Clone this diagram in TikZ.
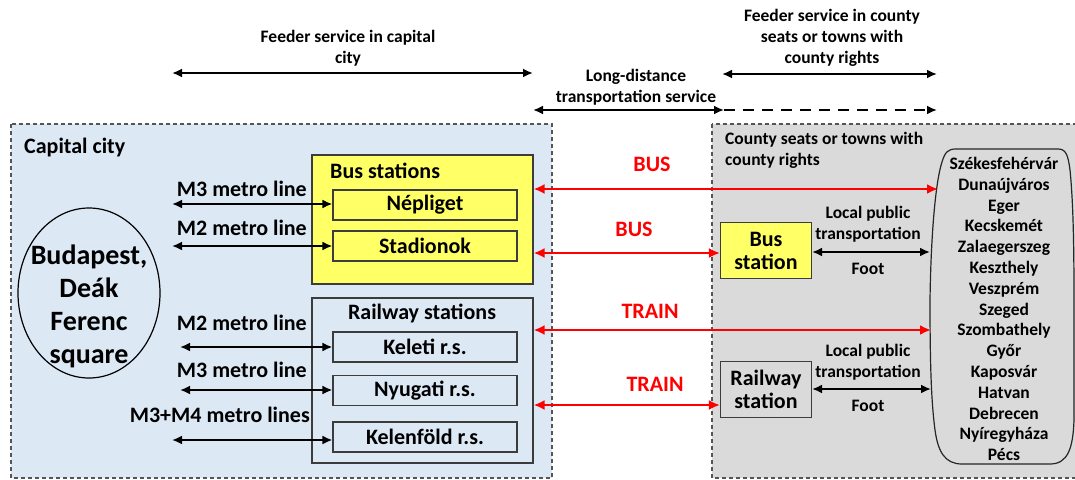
\documentclass[tikz,border=0pt]{standalone}
\usepackage{fontspec}
\setmainfont{Carlito}
\usetikzlibrary{arrows.meta,calc}

\definecolor{capbg}{RGB}{221,232,245}
\definecolor{cntbg}{RGB}{218,218,218}
\definecolor{stnyel}{RGB}{255,255,102}
\definecolor{framegray}{RGB}{85,85,85}
\definecolor{boxedge}{RGB}{60,60,60}
\definecolor{modered}{RGB}{255,0,0}

\begin{document}
\begin{tikzpicture}[x=1pt,y=-1pt,
  smallfont/.style={font=\bfseries\fontsize{17.5}{20.8}\selectfont},
  midfont/.style={font=\bfseries\fontsize{22}{26}\selectfont},
  bigfont/.style={font=\bfseries\fontsize{28}{33}\selectfont},
  region/.style={draw=framegray, dash pattern=on 4pt off 3pt, line width=1.1pt},
  stnbox/.style={draw=boxedge, line width=1.1pt, inner sep=0pt, minimum width=184pt, minimum height=30pt, midfont},
  groupbox/.style={draw=boxedge, line width=1.1pt, inner sep=0pt, minimum width=221pt},
  localbox/.style={draw=boxedge, line width=1.1pt, inner sep=0pt, minimum width=91pt, minimum height=56pt, midfont, align=center},
  link/.style={line width=2.4pt, {Latex[length=10pt,width=9pt]}-{Latex[length=10pt,width=9pt]}},
  redlink/.style={draw=modered, line width=2.6pt, {Latex[length=11pt,width=10pt]}-{Latex[length=11pt,width=10pt]}},
  modelabel/.style={midfont, text=modered},
  lbl/.style={smallfont, align=center, inner sep=0pt},
  metrolbl/.style={midfont, anchor=east, inner sep=0pt}
]
\useasboundingbox (0,0) rectangle (1075,479);
\fill[white] (0,0) rectangle (1075,479);

% two regions
\path[region, fill=capbg] (11,124) rectangle (552,478);
\path[region, fill=cntbg] (712,124) rectangle (1090,478);

% service ranges above the regions
\node[lbl] (feedcap) at (348,48) {Feeder service in capital\\city};
\coordinate (fcl) at (172,73);
\coordinate (fcr) at (533,73);
\draw[link] (fcl) -- (fcr);

\node[lbl] (longd) at (636,87) {Long-distance\\transportation service};
\coordinate (ldl) at (533,110);
\coordinate (ldm) at (724,110);
\coordinate (ldr) at (937,110);
\draw[link] (ldl) -- (ldm);
\draw[line width=2.4pt, dash pattern=on 11pt off 8pt, -{Latex[length=10pt,width=9pt]}] (ldm) -- (ldr);

\node[lbl] (feedcty) at (832,38) {Feeder service in county\\seats or towns with\\county rights};
\coordinate (fyl) at (722,74);
\coordinate (fyr) at (937,74);
\draw[link] (fyl) -- (fyr);

% capital city
\node[midfont, anchor=west, inner sep=0pt] (captitle) at (24,148) {Capital city};
\draw[line width=1.2pt] (89,293) ellipse [x radius=71, y radius=85];
\node[bigfont, align=center, inner sep=0pt] (deak) at (89,306) {Budapest,\\Deák\\Ferenc\\square};

% bus stations in the capital
\node[groupbox, fill=stnyel, minimum height=129pt] (busgrp) at (422.5,219.5) {};
\node[midfont, anchor=west, inner sep=0pt] (bustitle) at (330,171) {Bus stations};
\node[stnbox, fill=stnyel] (nepl) at (425,205) {Népliget};
\node[stnbox, fill=stnyel] (stad) at (425,246) {Stadionok};

% railway stations in the capital
\node[groupbox, minimum height=165pt] (railgrp) at (422.5,380.5) {};
\node[midfont, inner sep=0pt] (railtitle) at (422,313) {Railway stations};
\node[stnbox] (keleti) at (425,347) {Keleti r.s.};
\node[stnbox] (nyug) at (425,390.5) {Nyugati r.s.};
\node[stnbox] (kelen) at (425,437) {Kelenföld r.s.};

% metro lines to the stations
\node[metrolbl] (m3a) at (307,189) {M3 metro line};
\coordinate (m3al) at (172,204);
\draw[link] (m3al) -- (m3al -| nepl.west);
\node[metrolbl] (m2a) at (307,228) {M2 metro line};
\coordinate (m2al) at (172,246);
\draw[link] (m2al) -- (m2al -| stad.west);
\node[metrolbl] (m2b) at (307,323) {M2 metro line};
\coordinate (m2bl) at (180,347);
\draw[link] (m2bl) -- (m2bl -| keleti.west);
\node[metrolbl] (m3b) at (307,370) {M3 metro line};
\coordinate (m3bl) at (180,390);
\draw[link] (m3bl) -- (m3bl -| nyug.west);
\node[metrolbl] (m34) at (310,415) {M3+M4 metro lines};
\coordinate (m34l) at (172,440);
\draw[link] (m34l) -- (m34l -| kelen.west);

% county seats
\node[smallfont, align=left, anchor=north west, inner sep=0pt] (ctytitle) at (725,132) {County seats or towns with\\county rights};
\node[localbox, fill=stnyel] (busloc) at (766,250.5) {Bus\\[-3pt]station};
\node[localbox, fill=cntbg] (railloc) at (766,389.5) {Railway\\[-3pt]station};

% towns
\draw[line width=1.2pt, draw=black!85]
  (956,149) -- (1058,149)
  .. controls (1066,149) and (1068,155) .. (1070,170)
  .. controls (1073,200) and (1074,240) .. (1074,300) -- (1074,420)
  .. controls (1073,448) and (1068,464) .. (1050,464) -- (962,464)
  .. controls (945,464) and (938,452) .. (935,430)
  .. controls (931,400) and (930,360) .. (930,300)
  .. controls (931,230) and (936,180) .. (942,162)
  .. controls (945,152) and (948,149) .. (956,149) -- cycle;
\node[smallfont, align=center, inner sep=0pt] (towns) at (1004,309) {Székesfehérvár\\Dunaújváros\\Eger\\Kecskemét\\Zalaegerszeg\\Keszthely\\Veszprém\\Szeged\\Szombathely\\Győr\\Kaposvár\\Hatvan\\Debrecen\\Nyíregyháza\\Pécs};
\coordinate (twn1) at (938,189);
\coordinate (twn2) at (931,330);
\coordinate (twn3) at (930,252);
\coordinate (twn4) at (931,389);

% long-distance links
\node[modelabel] (bus1) at (652,164) {BUS};
\draw[redlink] (twn1 -| busgrp.east) -- (twn1);
\node[modelabel] (bus2) at (634,229) {BUS};
\draw[redlink] (busgrp.east |- 0,253) -- (busgrp.east |- 0,253 -| busloc.west);
\node[modelabel] (train1) at (650,311) {TRAIN};
\draw[redlink] (twn2 -| railgrp.east) -- (twn2);
\node[modelabel] (train2) at (655,384) {TRAIN};
\draw[redlink] (railgrp.east |- 0,405) -- (railgrp.east |- 0,405 -| railloc.west);

% local links in the county seats
\node[lbl] (lpt1) at (868,224) {Local public\\transportation};
\draw[link] (busloc.east |- twn3) -- (twn3);
\node[lbl] (foot1) at (868,269) {Foot};
\node[lbl] (lpt2) at (868,362) {Local public\\transportation};
\draw[link] (railloc.east |- twn4) -- (twn4);
\node[lbl] (foot2) at (868,406) {Foot};
\end{tikzpicture}
\end{document}
